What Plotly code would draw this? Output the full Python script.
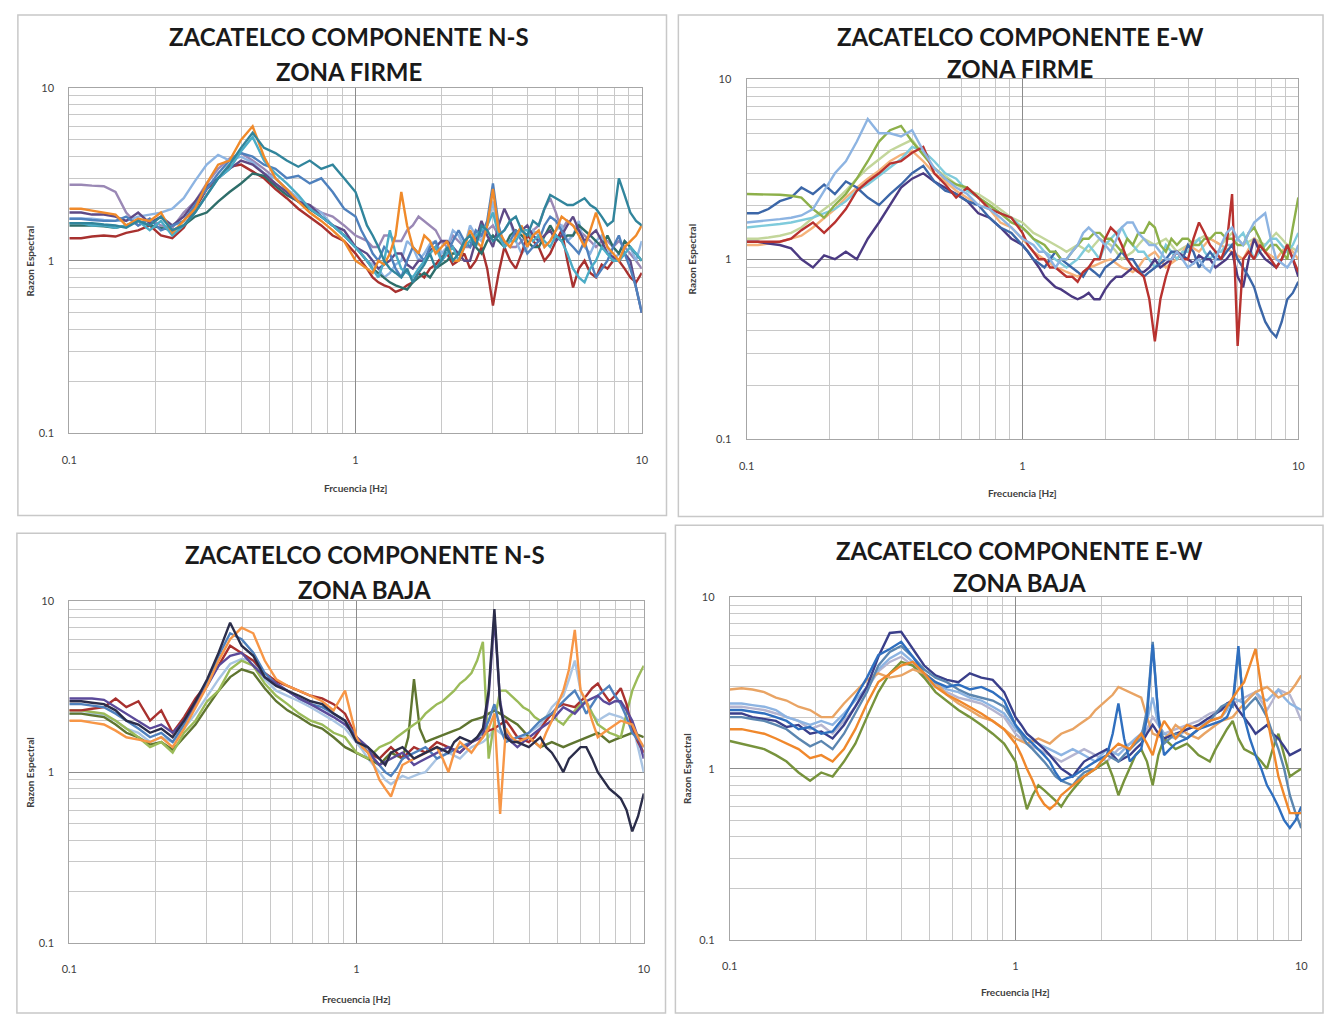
import plotly.graph_objects as go

W, H = 1332, 1020

# ---------------- data ----------------
# frequency grid: coarser below 1 Hz, finer from 1 to 10 Hz
freq_lo = [0.100, 0.110, 0.120, 0.132, 0.145, 0.158, 0.174, 0.191, 0.209, 0.229,
           0.251, 0.275, 0.302, 0.331, 0.363, 0.398, 0.437, 0.479, 0.525, 0.575,
           0.631, 0.692, 0.759, 0.832, 0.912]
freq_hi = [1.000, 1.047, 1.096, 1.148, 1.202, 1.259, 1.318, 1.380, 1.445, 1.514,
           1.585, 1.660, 1.738, 1.820, 1.905, 1.995, 2.089, 2.188, 2.291, 2.399,
           2.512, 2.630, 2.754, 2.884, 3.020, 3.162, 3.311, 3.467, 3.631, 3.802,
           3.981, 4.169, 4.365, 4.571, 4.786, 5.012, 5.248, 5.495, 5.754, 6.026,
           6.310, 6.607, 6.918, 7.244, 7.586, 7.943, 8.318, 8.710, 9.120, 9.550,
           10.00]
freq = freq_lo + freq_hi

# ---- Panel 1: Componente N-S, Zona firme ----
ns_firme_light_blue = [1.75,1.75,1.75,1.72,1.7,1.7,1.8,1.85,1.9,2.0,
    2.3,2.9,3.6,4.1,3.8,4.0,3.7,3.2,3.0,2.6,
    2.3,2.0,1.9,1.6,1.4] + [
    1.2,1.1,1.0,0.95,0.9,0.8,0.85,0.95,1.0,1.3,
    1.2,1.0,1.1,1.25,1.3,1.1,1.2,1.5,1.4,1.2,
    1.6,1.4,1.3,1.6,2.2,1.4,1.5,1.7,1.3,1.1,
    1.2,1.5,1.4,1.2,1.3,1.5,1.6,1.3,1.4,1.7,
    1.2,1.1,1.3,1.4,1.2,1.0,1.1,1.3,1.2,1.0,
    1.3]
ns_firme_teal = [1.65,1.65,1.65,1.62,1.6,1.55,1.7,1.6,1.8,1.5,
    1.6,1.9,2.4,3.0,3.6,4.5,5.5,4.5,4.2,3.8,
    3.5,3.8,3.4,3.6,3.0] + [
    2.5,2.0,1.6,1.4,1.2,1.0,0.9,0.85,0.8,0.9,
    0.75,0.85,0.95,1.1,0.9,1.0,1.2,1.0,1.1,1.3,
    1.4,1.2,1.6,1.5,1.3,1.4,1.5,1.7,1.8,1.5,
    1.4,1.7,1.6,2.0,2.4,2.3,2.2,2.1,2.1,2.2,
    2.3,2.1,2.0,1.8,1.6,1.7,3.0,2.4,1.9,1.7,
    1.6]
ns_firme_blue = [1.75,1.75,1.72,1.7,1.7,1.8,1.6,1.75,1.5,1.6,
    1.7,2.1,2.6,3.2,3.8,4.2,4.0,3.6,3.4,3.0,
    3.1,2.8,3.0,2.5,2.0] + [
    1.8,1.5,1.3,1.1,1.0,1.2,1.1,0.9,0.8,1.0,
    1.2,1.1,1.0,1.2,1.3,1.0,1.1,1.3,1.5,1.3,
    1.2,1.5,1.4,1.7,2.8,1.6,1.2,1.3,1.5,1.3,
    1.1,1.2,1.3,1.6,1.8,1.7,1.5,1.3,1.2,1.1,
    1.3,1.0,0.8,0.9,1.0,1.2,1.4,1.1,0.9,0.7,
    0.5]
ns_firme_orange = [2.0,2.0,1.95,1.9,1.85,1.6,1.75,1.7,1.9,1.45,
    1.7,2.0,2.8,3.6,3.8,5.0,6.0,4.0,3.0,2.6,
    2.2,1.9,1.7,1.5,1.3] + [
    1.0,0.95,0.9,0.85,1.0,0.95,1.1,1.4,2.5,1.6,
    1.2,1.1,1.4,1.3,1.1,1.2,1.3,1.0,1.0,1.2,
    1.5,1.3,1.2,1.6,2.6,1.5,1.3,1.2,1.4,1.6,
    1.2,1.4,1.5,1.2,1.3,1.5,1.8,1.7,1.6,1.4,
    1.2,1.5,1.9,1.5,1.2,1.1,1.0,1.2,1.3,1.4,
    1.6]
ns_firme_red = [1.35,1.35,1.38,1.4,1.38,1.45,1.5,1.6,1.4,1.35,
    1.55,2.0,2.6,3.0,3.5,3.6,3.3,3.0,2.6,2.3,
    2.0,1.8,1.6,1.4,1.3] + [
    1.1,1.0,0.9,0.8,0.75,0.72,0.7,0.66,0.68,0.72,
    0.75,0.85,0.8,0.9,0.95,1.05,1.1,0.95,1.0,1.1,
    0.9,1.0,1.2,0.9,0.55,0.85,1.2,1.0,0.9,1.1,
    1.4,1.3,1.2,1.0,1.1,1.3,1.5,1.0,0.7,0.9,
    1.0,0.85,0.8,0.95,0.9,1.0,1.0,0.9,0.8,0.75,
    0.85]
ns_firme_purple = [1.9,1.9,1.85,1.85,1.8,1.7,1.9,1.65,1.8,1.6,
    1.8,2.2,2.7,3.0,3.4,3.8,3.6,3.2,2.8,2.5,
    2.2,2.1,1.8,1.6,1.5] + [
    1.2,1.15,1.1,1.0,0.9,0.95,1.0,1.1,1.1,0.95,
    0.9,1.0,1.0,1.15,1.2,1.3,1.3,1.2,1.1,1.0,
    1.0,1.3,1.7,1.4,1.2,1.6,2.0,1.7,1.4,1.5,
    1.6,1.4,1.3,1.4,1.5,1.3,1.4,1.6,1.8,1.5,
    1.3,1.4,1.5,1.3,1.1,1.05,1.0,1.1,1.0,0.7,
    0.5]
ns_firme_grey_purple = [2.75,2.75,2.72,2.7,2.5,1.9,1.6,1.75,1.6,1.55,
    1.9,2.2,2.8,3.4,3.9,4.2,3.8,3.4,3.0,2.6,
    2.2,2.1,1.9,1.8,1.6] + [
    1.4,1.35,1.3,1.2,1.2,1.4,1.4,1.3,1.3,1.5,
    1.6,1.8,1.7,1.6,1.5,1.3,1.2,1.4,1.3,1.2,
    1.2,1.3,1.4,1.5,1.6,1.4,1.3,1.2,1.2,1.3,
    1.4,1.5,1.6,2.0,2.3,1.9,1.5,1.7,1.6,1.5,
    1.4,1.3,1.2,1.3,1.3,1.2,1.3,1.2,1.1,1.0,
    0.9]
ns_firme_dark_teal = [1.6,1.6,1.6,1.58,1.55,1.6,1.7,1.6,1.55,1.5,
    1.6,1.8,1.9,2.2,2.5,2.8,3.2,3.1,2.7,2.4,
    2.2,2.0,1.8,1.6,1.4] + [
    1.2,1.1,1.0,0.9,0.85,0.8,0.75,0.72,0.7,0.68,
    0.75,0.8,0.85,0.8,0.9,0.95,1.0,1.1,1.1,1.2,
    1.3,1.2,1.1,1.3,1.4,1.3,1.2,1.4,1.5,1.4,
    1.3,1.2,1.2,1.4,1.6,1.4,1.3,1.4,1.4,1.6,
    1.5,1.4,1.3,1.2,1.4,1.2,1.1,1.3,1.2,1.1,
    1.0]
ns_firme_aqua = [1.65,1.65,1.6,1.6,1.55,1.6,1.7,1.5,1.7,1.4,
    1.6,1.9,2.4,3.0,3.4,4.3,5.2,3.8,3.2,2.8,
    2.4,2.0,1.8,1.6,1.4] + [
    1.2,1.1,1.0,0.9,0.8,1.0,1.5,1.1,0.9,0.85,
    0.8,0.9,1.0,1.1,1.2,1.0,1.1,1.2,1.0,1.2,
    1.3,1.4,1.5,1.6,1.9,1.4,1.2,1.3,1.3,1.5,
    1.5,1.3,1.4,1.3,1.2,1.4,1.3,1.1,0.9,0.8,
    0.75,0.9,1.0,1.2,1.1,1.0,1.0,1.1,1.2,1.1,
    1.0]

# ---- Panel 2: Componente E-W, Zona firme ----
ew_firme_green = [2.3,2.3,2.3,2.28,2.25,2.2,1.9,1.7,2.0,2.3,
    2.8,3.5,4.5,5.2,5.5,4.5,3.8,3.2,2.8,2.6,
    2.5,2.2,2.0,1.8,1.6] + [
    1.5,1.4,1.3,1.25,1.2,1.1,1.1,1.0,1.0,1.1,
    1.2,1.3,1.3,1.4,1.4,1.3,1.3,1.2,1.1,1.3,
    1.2,1.4,1.4,1.6,1.5,1.2,1.1,1.3,1.2,1.3,
    1.3,1.2,1.2,1.3,1.3,1.4,1.4,1.3,1.3,1.2,
    1.2,1.4,1.5,1.3,1.1,1.2,1.2,1.1,1.0,1.5,
    2.2]
ew_firme_light_blue = [1.6,1.62,1.65,1.67,1.7,1.75,1.9,2.4,3.0,3.5,
    4.5,6.0,5.0,5.0,4.8,5.2,4.0,3.2,2.8,2.5,
    2.3,2.0,1.9,1.7,1.5] + [
    1.3,1.25,1.2,1.1,1.1,1.0,0.9,1.0,1.0,1.1,
    1.2,1.4,1.5,1.4,1.3,1.2,1.1,1.3,1.5,1.6,
    1.6,1.4,1.3,1.2,1.2,1.1,1.0,1.0,1.1,1.0,
    0.9,0.95,1.0,0.9,0.85,1.0,1.2,1.4,1.5,1.3,
    1.2,1.4,1.6,1.7,1.8,1.3,1.0,0.95,0.9,1.0,
    1.2]
ew_firme_red = [1.25,1.25,1.25,1.25,1.3,1.45,1.6,1.4,1.6,1.9,
    2.4,2.7,3.0,3.4,3.5,3.9,4.2,3.0,2.6,2.2,
    2.5,2.2,1.9,1.8,1.7] + [
    1.4,1.2,1.1,1.0,1.0,0.9,0.9,0.85,0.8,0.8,
    0.75,0.85,0.9,1.0,1.0,1.3,1.5,1.4,1.2,1.0,
    0.9,0.85,0.8,0.6,0.35,0.6,0.8,1.0,1.1,1.0,
    1.0,1.3,1.6,1.4,1.2,1.1,1.0,1.2,2.3,0.33,
    1.0,1.1,1.0,1.2,1.1,1.0,0.9,1.0,1.2,1.0,
    0.85]
ew_firme_dark_purple = [1.25,1.25,1.22,1.2,1.15,1.0,0.9,1.05,1.0,1.1,
    1.0,1.3,1.6,2.0,2.5,2.8,3.0,2.7,2.5,2.3,
    2.1,1.8,1.7,1.5,1.3] + [
    1.2,1.1,1.0,0.9,0.8,0.75,0.7,0.68,0.65,0.62,
    0.6,0.62,0.65,0.6,0.6,0.68,0.75,0.8,0.8,0.85,
    0.9,0.85,0.85,0.9,1.0,0.9,0.95,1.0,1.1,1.05,
    1.0,0.95,1.05,1.0,1.0,0.9,0.95,1.0,1.1,0.8,
    0.7,1.0,1.3,1.1,1.0,0.95,0.9,1.0,1.2,1.0,
    0.8]
ew_firme_blue = [1.8,1.8,1.9,2.1,2.2,2.5,2.3,2.6,2.3,2.7,
    2.5,2.2,2.0,2.3,2.6,3.0,3.3,2.7,2.4,2.3,
    2.1,2.0,1.7,1.5,1.4] + [
    1.2,1.1,1.0,0.95,0.9,1.0,1.1,1.0,0.95,0.9,
    0.85,0.8,0.9,0.85,0.8,0.9,0.95,1.0,1.1,1.0,
    1.0,0.9,0.8,0.85,0.9,0.95,1.0,1.1,1.1,1.0,
    1.2,1.1,0.9,1.0,1.1,1.0,1.0,1.1,1.2,1.0,
    0.9,0.8,0.7,0.55,0.45,0.4,0.37,0.45,0.6,0.65,
    0.75]
ew_firme_aqua = [1.5,1.52,1.55,1.57,1.6,1.65,1.7,1.8,1.9,2.1,
    2.4,2.6,2.9,3.2,3.6,4.2,4.0,3.5,3.0,2.8,
    2.4,2.2,2.0,1.8,1.7] + [
    1.5,1.4,1.3,1.2,1.1,1.05,1.0,0.95,0.9,0.95,
    1.0,1.1,1.2,1.1,1.0,1.2,1.3,1.4,1.5,1.3,
    1.2,1.1,1.1,1.0,0.9,1.0,1.2,1.1,1.0,1.1,
    1.1,1.2,1.3,1.1,1.0,1.1,1.1,1.2,1.2,1.3,
    1.4,1.2,1.0,1.1,1.2,1.3,1.3,1.2,1.1,1.2,
    1.4]
ew_firme_orange = [1.2,1.2,1.22,1.25,1.3,1.35,1.5,1.7,1.9,2.2,
    2.5,2.8,3.1,3.5,3.8,4.0,3.5,3.0,2.7,2.4,
    2.2,2.0,1.9,1.6,1.5] + [
    1.3,1.2,1.1,1.05,1.0,0.95,0.9,0.88,0.85,0.82,
    0.8,0.85,0.9,0.92,0.95,0.98,1.0,0.95,0.9,0.88,
    0.85,0.9,1.0,1.05,1.1,1.0,0.9,0.95,1.0,1.1,
    1.2,1.15,1.1,1.2,1.3,1.25,1.2,1.15,1.1,1.05,
    1.0,1.15,1.3,1.2,1.1,1.05,1.0,1.1,1.2,1.1,
    1.0]
ew_firme_olive = [1.3,1.3,1.32,1.35,1.4,1.5,1.7,1.9,2.1,2.4,
    2.8,3.2,3.6,4.0,4.3,4.6,3.8,3.2,2.9,2.6,
    2.4,2.3,2.1,1.9,1.7] + [
    1.6,1.5,1.4,1.35,1.3,1.25,1.2,1.15,1.1,1.15,
    1.2,1.15,1.1,1.2,1.3,1.25,1.2,1.1,1.0,1.05,
    1.1,1.2,1.3,1.25,1.2,1.25,1.3,1.2,1.1,1.15,
    1.2,1.25,1.3,1.35,1.3,1.25,1.2,1.3,1.4,1.3,
    1.2,1.25,1.3,1.25,1.2,1.3,1.4,1.3,1.2,1.15,
    1.1]

# ---- Panel 3: Componente N-S, Zona baja ----
ns_baja_navy = [2.6,2.6,2.55,2.5,2.3,2.0,1.9,1.7,1.8,1.6,
    2.0,2.6,3.5,5.0,7.5,5.5,4.8,3.6,3.2,3.0,
    2.8,2.6,2.5,2.2,2.0] + [
    1.5,1.45,1.4,1.3,1.2,1.1,1.3,1.35,1.4,1.3,
    1.2,1.25,1.3,1.35,1.4,1.35,1.3,1.5,1.6,1.55,
    1.5,1.6,1.8,3.0,9.0,2.5,1.6,1.5,1.5,1.45,
    1.4,1.5,1.6,1.4,1.3,1.15,1.0,1.2,1.3,1.4,
    1.4,1.2,1.0,0.9,0.8,0.75,0.7,0.6,0.45,0.55,
    0.75]
ns_baja_purple = [2.7,2.7,2.7,2.65,2.4,2.2,2.0,1.8,1.9,1.7,
    2.0,2.5,3.2,4.2,4.8,5.0,4.2,3.6,3.3,3.0,
    2.7,2.5,2.3,2.1,1.9] + [
    1.6,1.5,1.4,1.2,1.1,1.15,1.2,1.25,1.3,1.2,
    1.1,1.15,1.2,1.25,1.3,1.35,1.4,1.35,1.3,1.4,
    1.5,1.55,1.6,2.8,8.0,2.6,1.7,1.5,1.4,1.5,
    1.6,1.7,1.8,1.9,2.0,2.2,2.4,2.3,2.2,2.4,
    2.6,2.7,2.8,2.6,2.5,2.6,2.6,2.3,2.0,1.6,
    1.2]
ns_baja_red = [2.3,2.3,2.35,2.4,2.7,2.4,2.6,2.0,2.3,1.7,
    2.1,2.7,3.3,4.2,5.5,5.0,4.5,3.8,3.4,3.2,
    3.0,2.8,2.7,2.5,2.2] + [
    1.6,1.45,1.3,1.25,1.2,1.3,1.4,1.3,1.2,1.3,
    1.4,1.35,1.3,1.4,1.5,1.45,1.4,1.35,1.3,1.4,
    1.5,1.6,1.7,1.75,1.8,1.9,2.0,1.8,1.6,1.55,
    1.5,1.6,1.8,2.0,2.2,2.4,2.5,2.45,2.4,2.6,
    2.8,3.1,3.3,2.9,2.6,2.8,3.1,2.5,1.8,1.5,
    1.3]
ns_baja_green = [2.3,2.3,2.25,2.2,2.0,1.8,1.6,1.4,1.5,1.3,
    1.7,2.0,2.6,3.0,4.0,4.5,4.2,3.3,2.8,2.5,
    2.2,2.0,1.9,1.7,1.6] + [
    1.3,1.25,1.2,1.3,1.4,1.45,1.5,1.6,1.7,1.8,
    1.9,2.0,2.2,2.35,2.5,2.6,2.8,3.0,3.3,3.5,
    3.8,4.5,5.8,1.2,2.0,3.0,3.0,2.8,2.6,2.4,
    2.3,2.1,2.0,2.1,2.2,2.0,1.9,2.1,2.3,2.5,
    2.6,2.2,1.9,1.8,1.7,1.65,1.6,2.2,3.0,3.6,
    4.2]
ns_baja_dark_green = [2.2,2.2,2.15,2.1,1.9,1.7,1.6,1.45,1.5,1.35,
    1.6,1.9,2.4,3.0,3.6,4.0,3.8,3.1,2.6,2.3,
    2.1,1.9,1.8,1.6,1.4] + [
    1.3,1.25,1.2,1.15,1.1,1.2,1.3,1.25,1.2,1.6,
    3.5,1.8,1.5,1.55,1.6,1.65,1.7,1.75,1.8,1.9,
    2.0,2.05,2.1,2.2,2.3,2.2,2.1,2.0,1.9,1.75,
    1.6,1.5,1.4,1.45,1.5,1.45,1.4,1.45,1.5,1.55,
    1.6,1.65,1.7,1.6,1.5,1.55,1.6,1.65,1.7,1.65,
    1.6]
ns_baja_orange = [2.0,2.0,1.95,1.9,1.75,1.6,1.55,1.5,1.6,1.4,
    1.8,2.4,3.2,4.5,6.0,7.0,6.5,4.5,3.5,3.2,
    3.0,2.8,2.6,2.3,3.0] + [
    1.6,1.4,1.3,1.1,0.9,0.8,0.72,0.9,1.1,1.15,
    1.2,1.25,1.3,1.35,1.4,1.2,1.0,1.3,1.5,1.4,
    1.3,1.45,1.6,1.8,2.2,0.57,1.8,1.6,1.5,1.55,
    1.6,1.5,1.4,1.7,2.0,2.5,3.0,4.0,6.8,3.0,
    2.6,2.0,1.6,1.7,1.8,1.9,2.0,1.95,1.9,1.6,
    1.4]
ns_baja_light_blue = [2.2,2.2,2.2,2.15,2.0,1.8,1.7,1.5,1.6,1.5,
    1.8,2.2,2.8,3.5,4.3,4.6,4.5,3.5,3.0,2.8,
    2.6,2.4,2.2,2.0,1.8] + [
    1.5,1.35,1.2,1.1,1.0,0.9,0.85,0.9,0.95,0.92,
    0.95,0.98,1.0,1.1,1.2,1.25,1.3,1.25,1.2,1.3,
    1.4,1.45,1.5,1.6,1.8,1.7,1.6,1.55,1.5,1.6,
    1.7,1.8,1.9,2.1,2.4,2.6,2.8,3.5,4.5,3.0,
    2.5,2.2,2.0,2.1,2.2,2.15,2.1,2.0,1.9,1.4,
    1.0]
ns_baja_blue = [2.5,2.5,2.45,2.4,2.2,2.0,1.8,1.6,1.7,1.5,
    1.9,2.5,3.4,4.8,6.5,6.0,5.0,3.8,3.3,3.0,
    2.7,2.5,2.4,2.2,2.0] + [
    1.6,1.45,1.3,1.2,1.1,1.0,0.95,1.05,1.2,1.25,
    1.3,1.35,1.4,1.3,1.2,1.25,1.3,1.35,1.4,1.45,
    1.5,1.6,1.7,2.0,2.5,1.8,1.5,1.55,1.6,1.65,
    1.7,1.85,2.0,2.1,2.2,2.4,2.6,2.8,3.0,2.6,
    2.2,2.5,2.8,3.0,3.2,2.8,2.5,2.1,1.7,1.55,
    1.4]

# ---- Panel 4: Componente E-W, Zona baja ----
ew_baja_tan = [2.9,2.95,2.9,2.8,2.6,2.5,2.3,2.2,2.0,2.0,
    2.4,2.8,3.3,3.6,3.4,3.5,3.8,3.6,3.2,2.7,
    2.4,2.2,2.0,1.9,1.7] + [
    1.5,1.45,1.4,1.45,1.5,1.45,1.4,1.5,1.6,1.65,
    1.7,1.8,1.9,2.0,2.2,2.35,2.5,2.7,3.0,2.9,
    2.8,2.7,2.6,2.0,1.6,1.55,1.5,1.6,1.8,1.7,
    1.6,1.55,1.5,1.6,1.7,1.8,1.9,1.95,2.0,2.2,
    2.4,2.6,2.8,2.9,3.0,2.8,2.6,2.7,2.8,3.1,
    3.5]
ew_baja_navy = [2.1,2.1,2.0,1.95,1.9,1.75,1.8,1.6,1.65,1.5,
    1.8,2.3,3.0,4.5,6.2,6.3,5.0,4.0,3.5,3.3,
    3.2,3.6,3.4,3.3,2.8] + [
    2.0,1.8,1.6,1.5,1.4,1.3,1.2,1.1,1.0,0.95,
    0.9,1.0,1.1,1.15,1.2,1.25,1.3,1.2,1.1,1.15,
    1.2,1.3,1.4,1.6,1.8,1.6,1.5,1.55,1.6,1.65,
    1.7,1.75,1.8,1.9,2.0,2.1,2.2,2.4,2.5,2.2,
    2.0,1.8,1.6,1.7,1.8,1.6,1.5,1.35,1.2,1.25,
    1.3]
ew_baja_blue = [2.2,2.2,2.15,2.1,2.0,1.9,1.7,1.75,1.6,1.65,
    2.0,2.6,3.4,4.6,5.0,5.5,4.5,3.6,3.2,3.0,
    3.1,2.9,3.0,2.8,2.5] + [
    1.8,1.65,1.5,1.4,1.3,1.2,1.1,0.95,0.85,0.88,
    0.9,0.95,1.0,1.05,1.1,1.15,1.2,1.6,2.4,1.5,
    1.1,1.2,1.3,2.0,5.3,2.0,1.2,1.3,1.4,1.45,
    1.5,1.6,1.7,1.75,1.8,1.85,1.9,2.0,2.4,5.2,
    2.0,1.5,1.2,1.0,0.8,0.7,0.6,0.5,0.45,0.5,
    0.6]
ew_baja_light_blue = [2.4,2.4,2.35,2.3,2.2,2.0,1.9,1.8,1.9,1.8,
    2.1,2.5,3.0,3.8,4.4,4.8,4.2,3.5,3.1,2.9,
    2.8,2.6,2.5,2.3,2.1] + [
    1.7,1.6,1.5,1.45,1.4,1.35,1.3,1.25,1.2,1.25,
    1.3,1.25,1.2,1.15,1.1,1.2,1.3,1.25,1.2,1.3,
    1.4,1.5,1.6,1.9,2.6,1.8,1.6,1.55,1.5,1.6,
    1.7,1.75,1.8,1.85,1.9,1.95,2.0,2.2,2.6,2.5,
    2.4,2.6,2.8,2.6,2.5,2.7,2.9,2.6,2.4,2.3,
    2.2]
ew_baja_green = [1.45,1.4,1.35,1.3,1.2,1.1,0.95,0.85,0.95,0.9,
    1.1,1.4,2.0,2.8,3.6,4.2,4.0,3.4,2.8,2.5,
    2.2,2.0,1.8,1.6,1.4] + [
    1.1,0.8,0.58,0.7,0.8,0.75,0.7,0.65,0.6,0.68,
    0.75,0.82,0.9,0.95,1.0,1.05,1.1,0.9,0.7,0.85,
    1.0,1.2,1.3,1.1,0.8,1.2,1.5,1.4,1.3,1.35,
    1.4,1.3,1.2,1.15,1.1,1.3,1.5,1.7,1.9,1.5,
    1.3,1.25,1.2,1.1,1.0,1.3,1.6,1.2,0.9,0.95,
    1.0]
ew_baja_orange = [1.7,1.7,1.65,1.6,1.5,1.4,1.3,1.15,1.2,1.1,
    1.3,1.7,2.4,3.2,3.6,4.0,4.2,3.6,3.0,2.7,
    2.5,2.3,2.1,1.9,1.7] + [
    1.4,1.2,1.0,0.85,0.7,0.62,0.58,0.62,0.7,0.75,
    0.8,0.85,0.9,0.95,1.0,1.1,1.2,1.3,1.4,1.35,
    1.3,1.45,1.6,1.4,1.2,1.6,1.9,1.7,1.5,1.65,
    1.8,1.75,1.7,1.8,1.9,1.95,2.0,2.3,2.6,2.9,
    3.2,4.0,5.0,3.0,2.0,1.3,0.9,0.7,0.55,0.55,
    0.55]
ew_baja_steel = [2.0,2.0,1.95,1.9,1.8,1.7,1.5,1.35,1.45,1.3,
    1.6,2.1,2.8,4.0,4.8,5.2,4.5,3.8,3.4,3.2,
    2.9,2.7,2.6,2.5,2.3] + [
    1.8,1.6,1.4,1.3,1.2,1.1,1.0,0.9,0.85,0.82,
    0.8,0.88,0.95,0.98,1.0,1.1,1.2,1.15,1.1,1.2,
    1.3,1.4,1.5,2.2,5.5,2.0,1.4,1.5,1.6,1.55,
    1.5,1.6,1.7,1.8,1.9,2.1,2.3,2.4,2.3,4.8,
    2.2,2.4,2.6,2.3,2.0,1.6,1.3,1.0,0.7,0.55,
    0.45]
ew_baja_grey = [2.3,2.3,2.25,2.2,2.1,2.0,1.9,1.7,1.8,1.6,
    1.9,2.3,2.9,3.7,4.2,4.5,4.0,3.4,3.0,2.8,
    2.6,2.5,2.4,2.2,2.0] + [
    1.6,1.5,1.4,1.35,1.3,1.25,1.2,1.15,1.1,1.15,
    1.2,1.25,1.3,1.25,1.2,1.15,1.1,1.2,1.3,1.35,
    1.4,1.45,1.5,1.7,2.0,1.8,1.6,1.65,1.7,1.75,
    1.8,1.85,1.9,2.0,2.1,2.15,2.2,2.3,2.4,2.5,
    2.6,2.7,2.8,2.5,2.2,2.5,2.9,2.8,2.7,2.3,
    1.9]

x_tick_vals = [0.1, 1, 10]
x_tick_text = ["0.1", "1", "10"]
y_tick_vals = [0.1, 1, 10]
y_tick_text = ["0.1", "1", "10"]
minor_vals = [0.2, 0.3, 0.4, 0.5, 0.6, 0.7, 0.8, 0.9, 2, 3, 4, 5, 6, 7, 8, 9]

title_line1 = ["ZACATELCO COMPONENTE N-S", "ZACATELCO COMPONENTE E-W",
               "ZACATELCO COMPONENTE N-S", "ZACATELCO COMPONENTE E-W"]
title_line2 = ["ZONA FIRME", "ZONA FIRME", "ZONA BAJA", "ZONA BAJA"]
x_titles = ["Frcuencia [Hz]", "Frecuencia [Hz]", "Frecuencia [Hz]", "Frecuencia [Hz]"]
y_title = "Razon Espectral"

panels = [
    [(ns_firme_grey_purple, "#9A88B5"), (ns_firme_light_blue, "#8DB4E2"), (ns_firme_red, "#A8312F"),
     (ns_firme_dark_teal, "#2E6E6A"), (ns_firme_purple, "#5E4A86"), (ns_firme_blue, "#4F81BD"),
     (ns_firme_aqua, "#4BACC6"), (ns_firme_orange, "#F08A2A"), (ns_firme_teal, "#31859C")],
    [(ew_firme_olive, "#C3D69B"), (ew_firme_orange, "#F5B27A"), (ew_firme_aqua, "#7FCBDC"),
     (ew_firme_dark_purple, "#4B3A82"), (ew_firme_blue, "#3C67A8"), (ew_firme_green, "#8DB04A"),
     (ew_firme_red, "#B8322F"), (ew_firme_light_blue, "#8DB4E2")],
    [(ns_baja_light_blue, "#A9C4E3"), (ns_baja_dark_green, "#5F7530"), (ns_baja_green, "#9BBB59"),
     (ns_baja_red, "#A8312F"), (ns_baja_blue, "#4F81BD"), (ns_baja_purple, "#5B4A9A"),
     (ns_baja_orange, "#F79646"), (ns_baja_navy, "#2B2D4A")],
    [(ew_baja_grey, "#B5B5D0"), (ew_baja_light_blue, "#8DB4E2"), (ew_baja_green, "#77933C"),
     (ew_baja_tan, "#E9A464"), (ew_baja_navy, "#3A3F8A"), (ew_baja_steel, "#5B86B0"),
     (ew_baja_blue, "#2F6FBF"), (ew_baja_orange, "#F0882C")],
]

# ---------------- layout geometry (screen pixels) ----------------
plot_px = [(62, 641, 82, 432), (747, 1305, 73, 438), (62, 643, 602, 948), (730, 1308, 598, 945)]
frame_px = [(10, 8, 666, 515), (678, 8, 1330, 516), (9, 533, 665, 1019), (675, 525, 1330, 1019)]
title_x = [345, 1024, 361, 1023]
title_y1 = [30, 30, 555, 551]
title_y2 = [65, 62, 590, 583]
xtitle_y = [487, 492, 1005, 998]
ytitle_x = [22, 692, 22, 686]


def px(x):
    return x / W


def py(y):
    return 1 - y / H


fig = go.Figure()
layout = dict(width=W, height=H, margin=dict(l=0, r=0, t=0, b=0),
              paper_bgcolor="white", plot_bgcolor="white", showlegend=False,
              annotations=[], shapes=[])

for k, series in enumerate(panels):
    xa = "x" if k == 0 else f"x{k+1}"
    ya = "y" if k == 0 else f"y{k+1}"
    for vals, col in series:
        fig.add_trace(go.Scatter(x=freq, y=vals, mode="lines", xaxis=xa, yaxis=ya,
                                 line=dict(color=col, width=2.4), hoverinfo="skip"))
    x0, x1, y0, y1 = plot_px[k]
    common = dict(type="log", showline=True, mirror=True, linecolor="#A6A6A6", linewidth=1,
                  showgrid=True, gridcolor="#8C8C8C", gridwidth=1, zeroline=False,
                  tickfont=dict(family="Lato", size=11, color="#404040"),
                  ticks="outside", tickcolor="rgba(0,0,0,0)",
                  minor=dict(tickmode="array", tickvals=minor_vals, showgrid=True,
                             gridcolor="#C8C8C8", gridwidth=1, ticks=""))
    layout["xaxis" + ("" if k == 0 else str(k + 1))] = dict(
        common, domain=[px(x0), px(x1)], anchor=ya, range=[-1, 1],
        tickmode="array", tickvals=x_tick_vals, ticktext=x_tick_text, ticklen=16)
    layout["yaxis" + ("" if k == 0 else str(k + 1))] = dict(
        common, domain=[py(y1), py(y0)], anchor=xa, range=[-1, 1],
        tickmode="array", tickvals=y_tick_vals, ticktext=y_tick_text, ticklen=12)

    fx0, fy0, fx1, fy1 = frame_px[k]
    layout["shapes"].append(dict(type="rect", xref="paper", yref="paper",
                                 x0=px(fx0), x1=px(fx1), y0=py(fy1), y1=py(fy0),
                                 line=dict(color="#C8C8C8", width=1.5), layer="below"))
    for txt, ty in ((title_line1[k], title_y1[k]), (title_line2[k], title_y2[k])):
        layout["annotations"].append(dict(text="<b>" + txt + "</b>", xref="paper", yref="paper",
                                          x=px(title_x[k]), y=py(ty), showarrow=False,
                                          font=dict(family="Lato", size=24, color="#1A1A1A"),
                                          xanchor="center", yanchor="middle"))
    layout["annotations"].append(dict(text="<b>" + x_titles[k] + "</b>", xref="paper", yref="paper",
                                      x=px((x0 + x1) / 2), y=py(xtitle_y[k]), showarrow=False,
                                      font=dict(family="Lato", size=10, color="#404040"),
                                      xanchor="center", yanchor="middle"))
    layout["annotations"].append(dict(text="<b>" + y_title + "</b>", xref="paper", yref="paper",
                                      x=px(ytitle_x[k]), y=py((y0 + y1) / 2), showarrow=False,
                                      textangle=-90, font=dict(family="Lato", size=10, color="#404040"),
                                      xanchor="center", yanchor="middle"))

fig.update_layout(**layout)
fig.write_html("out.html", config={"displayModeBar": False, "staticPlot": True},
               post_script="document.body.style.margin='0px';document.body.style.overflow='hidden';")
